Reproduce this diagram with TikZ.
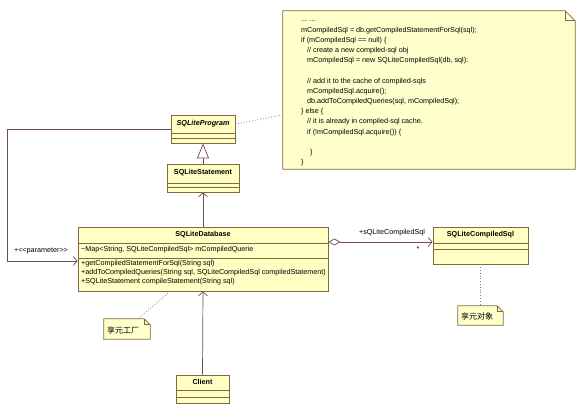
\documentclass[tikz,border=0pt]{standalone}
\usepackage{fontspec}
\setmainfont{Liberation Sans}[Ligatures=NoCommon]
\newfontfamily\cjk{Noto Sans CJK SC}
\usetikzlibrary{arrows.meta,calc}
\definecolor{boxfill}{RGB}{255,255,196}
\definecolor{notefill}{RGB}{255,255,204}
\definecolor{boxline}{RGB}{130,104,60}
\definecolor{conn}{RGB}{112,72,88}
\tikzset{
  classbox/.style={draw=boxline, fill=boxfill, line width=0.8pt, inner sep=0pt},
  cname/.style={font=\fontsize{7.2}{8}\selectfont\bfseries, inner sep=0pt},
  member/.style={font=\fontsize{7.2}{8}\selectfont, inner sep=0pt, anchor=west},
  sep/.style={draw=boxline, line width=0.7pt},
  notebox/.style={inner sep=0pt},
  noteline/.style={draw=boxline, fill=notefill, line width=0.7pt},
  conline/.style={draw=conn, line width=0.7pt},
  nav/.style={conline, -{Straight Barb[length=4pt,width=9pt]}},
  gen/.style={conline, -{Triangle[open,length=15pt,width=12pt,fill=white]}},
  agg/.style={conline, {Diamond[open,length=12pt,width=7pt,fill=white]}-{Straight Barb[length=4pt,width=9pt]}},
  anchorline/.style={draw=gray, line width=0.8pt, dotted},
  lbl/.style={font=\fontsize{7.2}{8}\selectfont, inner sep=0pt}
}
\begin{document}
\begin{tikzpicture}[x=1pt,y=-1pt]
\useasboundingbox[fill=white] (0,0) rectangle (576,407);

% SQLiteProgram
\node[classbox, minimum width=64pt, minimum height=28pt] (prog) at (203,129) {};
\draw[sep] (171,133) -- (235,133);
\draw[sep] (171,138) -- (235,138);
\node[cname, font=\fontsize{7.2}{8}\selectfont\bfseries\itshape] (progt) at (203,124) {SQLiteProgram};

% SQLiteStatement
\node[classbox, minimum width=72pt, minimum height=28pt] (stmt) at (203,178) {};
\draw[sep] (167,183) -- (239,183);
\draw[sep] (167,187) -- (239,187);
\node[cname] (stmtt) at (203,173) {SQLiteStatement};

% SQLiteDatabase
\node[classbox, minimum width=250pt, minimum height=64pt] (db) at (203,259) {};
\draw[sep] (78,243) -- (328,243);
\draw[sep] (78,258) -- (328,258);
\node[cname] (dbt) at (203,235) {SQLiteDatabase};
\node[member] (dba) at (81,250) {\textasciitilde Map{\char`\<}String, SQLiteCompiledSql{\char`\>} mCompiledQuerie};
\node[member] (dbo1) at (81,264) {+getCompiledStatementForSql(String sql)};
\node[member] (dbo2) at (81,273) {+addToCompiledQueries(String sql, SQLiteCompiledSql compiledStatement)};
\node[member] (dbo3) at (81,282) {+SQLiteStatement compileStatement(String sql)};

% SQLiteCompiledSql
\node[classbox, minimum width=95pt, minimum height=37pt] (csql) at (480.5,245.5) {};
\draw[sep] (433,243) -- (528,243);
\draw[sep] (433,249) -- (528,249);
\node[cname] (csqlt) at (480.5,235) {SQLiteCompiledSql};

% Client
\node[classbox, minimum width=53pt, minimum height=28pt] (client) at (202.5,389) {};
\draw[sep] (176,390) -- (229,390);
\draw[sep] (176,397) -- (229,397);
\node[cname] (clientt) at (202.5,382) {Client};

% Code note
\node[notebox, minimum width=292pt, minimum height=158pt] (code) at (429,90) {};
\draw[noteline] (code.north west) -- ($(code.north east)+(-10,0)$) -- ($(code.north east)+(0,10)$) -- (code.south east) -- (code.south west) -- cycle;
\draw[boxline, line width=0.7pt] ($(code.north east)+(-10,0)$) -- ($(code.north east)+(-10,10)$) -- ($(code.north east)+(0,10)$);
\node[anchor=north west, inner sep=0pt, align=left, font=\fontsize{7.2}{10.2}\selectfont] (codetext) at (301,21) {%
... ...\\
mCompiledSql = db.getCompiledStatementForSql(sql);\\
if (mCompiledSql == null) \{\\
\hspace*{6pt}// create a new compiled-sql obj\\
\hspace*{6pt}mCompiledSql = new SQLiteCompiledSql(db, sql);\\
\mbox{}\\
\hspace*{6pt}// add it to the cache of compiled-sqls\\
\hspace*{6pt}mCompiledSql.acquire();\\
\hspace*{6pt}db.addToCompiledQueries(sql, mCompiledSql);\\
\} else \{\\
\hspace*{6pt}// it is already in compiled-sql cache.\\
\hspace*{6pt}if (!mCompiledSql.acquire()) \{\\
\mbox{}\\
\hspace*{9pt}\}\\
\}};

% Note 享元工厂
\node[notebox, minimum width=46pt, minimum height=20pt] (fnote) at (127,329) {};
\draw[noteline] (fnote.north west) -- ($(fnote.north east)+(-6,0)$) -- ($(fnote.north east)+(0,6)$) -- (fnote.south east) -- (fnote.south west) -- cycle;
\draw[boxline, line width=0.7pt] ($(fnote.north east)+(-6,0)$) -- ($(fnote.north east)+(-6,6)$) -- ($(fnote.north east)+(0,6)$);
\node[inner sep=0pt, anchor=west, font=\cjk\fontsize{8}{9}\selectfont] (fnotet) at (107,330) {享元工厂};

% Note 享元对象
\node[notebox, minimum width=45pt, minimum height=19pt] (onote) at (480.5,315.5) {};
\draw[noteline] (onote.north west) -- ($(onote.north east)+(-6,0)$) -- ($(onote.north east)+(0,6)$) -- (onote.south east) -- (onote.south west) -- cycle;
\draw[boxline, line width=0.7pt] ($(onote.north east)+(-6,0)$) -- ($(onote.north east)+(-6,6)$) -- ($(onote.north east)+(0,6)$);
\node[inner sep=0pt, anchor=west, font=\cjk\fontsize{8}{9}\selectfont] (onotet) at (461,316) {享元对象};

% Connectors
\draw[gen] (stmt.north) -- (prog.south);
\draw[nav] (db.north) -- (stmt.south);
\draw[nav] (client.north) -- (db.south);
\coordinate (p1) at (7,129);
\coordinate (p2) at (7,261);
\draw[nav] (prog.west |- p1) -- (p1) -- (p2) -- (db.west |- p2);
\node[lbl] (param) at (41,251) {+{\char`\<}{\char`\<}parameter{\char`\>}{\char`\>}};
\coordinate (a1) at (0,242);
\draw[agg] (db.east |- a1) -- (csql.west |- a1);
\node[lbl] (role) at (392,233) {+sQLiteCompiledSql};
\node[lbl] (mult) at (418,249) {*};

\coordinate (c1) at (0,124);
\coordinate (c2) at (0,115);
\draw[anchorline] (prog.east |- c1) -- (code.west |- c2);
\coordinate (f1) at (170,0);
\coordinate (f2) at (138,0);
\draw[anchorline] (db.south -| f1) -- (fnote.north -| f2);
\draw[anchorline] (csql.south) -- (onote.north);
\end{tikzpicture}
\end{document}
